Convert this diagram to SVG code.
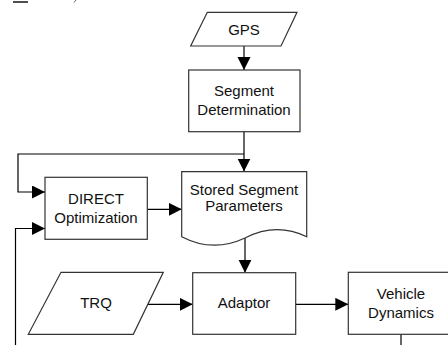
<svg xmlns="http://www.w3.org/2000/svg" width="448" height="345" viewBox="0 0 448 345">
<style>
.box{fill:#fff;stroke:#333;stroke-width:1.2}
.ln{fill:none;stroke:#000;stroke-width:1.2}
text{font-family:"Liberation Sans",Arial,sans-serif;font-size:15px;fill:#111;text-anchor:middle}
</style>
<defs>
<marker id="ah" markerWidth="14" markerHeight="14" refX="13" refY="6.5" orient="auto" markerUnits="userSpaceOnUse">
<path d="M0,0 L13,6.5 L0,13 Z" fill="#000"/>
</marker>
</defs>
<rect width="448" height="345" fill="#fff"/>
<g id="fragment">
<line x1="13" y1="2" x2="28" y2="2" stroke="#222" stroke-width="1.6"/>
<line x1="74" y1="2.5" x2="76" y2="0" stroke="#666" stroke-width="1"/>
</g>
<g id="connectors">
<line class="ln" x1="244" y1="46" x2="244" y2="70" marker-end="url(#ah)"/>
<line class="ln" x1="244" y1="132" x2="244" y2="171.5" marker-end="url(#ah)"/>
<polyline class="ln" points="244,154 18,154 18,192 45,192" marker-end="url(#ah)"/>
<polyline class="ln" points="15.5,345 15.5,228.5 45,228.5" marker-end="url(#ah)"/>
<line class="ln" x1="147.3" y1="209.3" x2="181.7" y2="209.3" marker-end="url(#ah)"/>
<line class="ln" x1="245" y1="238" x2="245" y2="272.7" marker-end="url(#ah)"/>
<line class="ln" x1="148" y1="304.3" x2="192.7" y2="304.3" marker-end="url(#ah)"/>
<line class="ln" x1="295.7" y1="304.3" x2="348.3" y2="304.3" marker-end="url(#ah)"/>
<line class="ln" x1="401" y1="334.3" x2="401" y2="345"/>
</g>
<g id="gps">
<polygon class="box" points="207.3,12.3 297,12.3 281,46 190.7,46"/>
<text x="244" y="34.5">GPS</text>
</g>
<g id="segment">
<rect class="box" x="188.7" y="70" width="111.3" height="61.7"/>
<text x="244" y="96">Segment</text>
<text x="244" y="114.5">Determination</text>
</g>
<g id="direct">
<rect class="box" x="45" y="177.3" width="102.3" height="62"/>
<text x="96" y="204.3">DIRECT</text>
<text x="96" y="223">Optimization</text>
</g>
<g id="stored">
<path class="box" d="M181.7,171.7 H306.7 V236.7 Q276,222 245,238 Q213,253 181.7,236.7 Z"/>
<text x="244" y="194.6">Stored Segment</text>
<text x="244" y="211.3">Parameters</text>
</g>
<g id="trq">
<polygon class="box" points="61,272.3 163.3,272.3 133.3,334.3 28.3,334.3"/>
<text x="96" y="308">TRQ</text>
</g>
<g id="adaptor">
<rect class="box" x="192.7" y="272.7" width="103" height="61.6"/>
<text x="244" y="308">Adaptor</text>
</g>
<g id="vehicle">
<rect class="box" x="348.3" y="272.3" width="106" height="62"/>
<text x="401" y="299.3">Vehicle</text>
<text x="401" y="318">Dynamics</text>
</g>
</svg>
